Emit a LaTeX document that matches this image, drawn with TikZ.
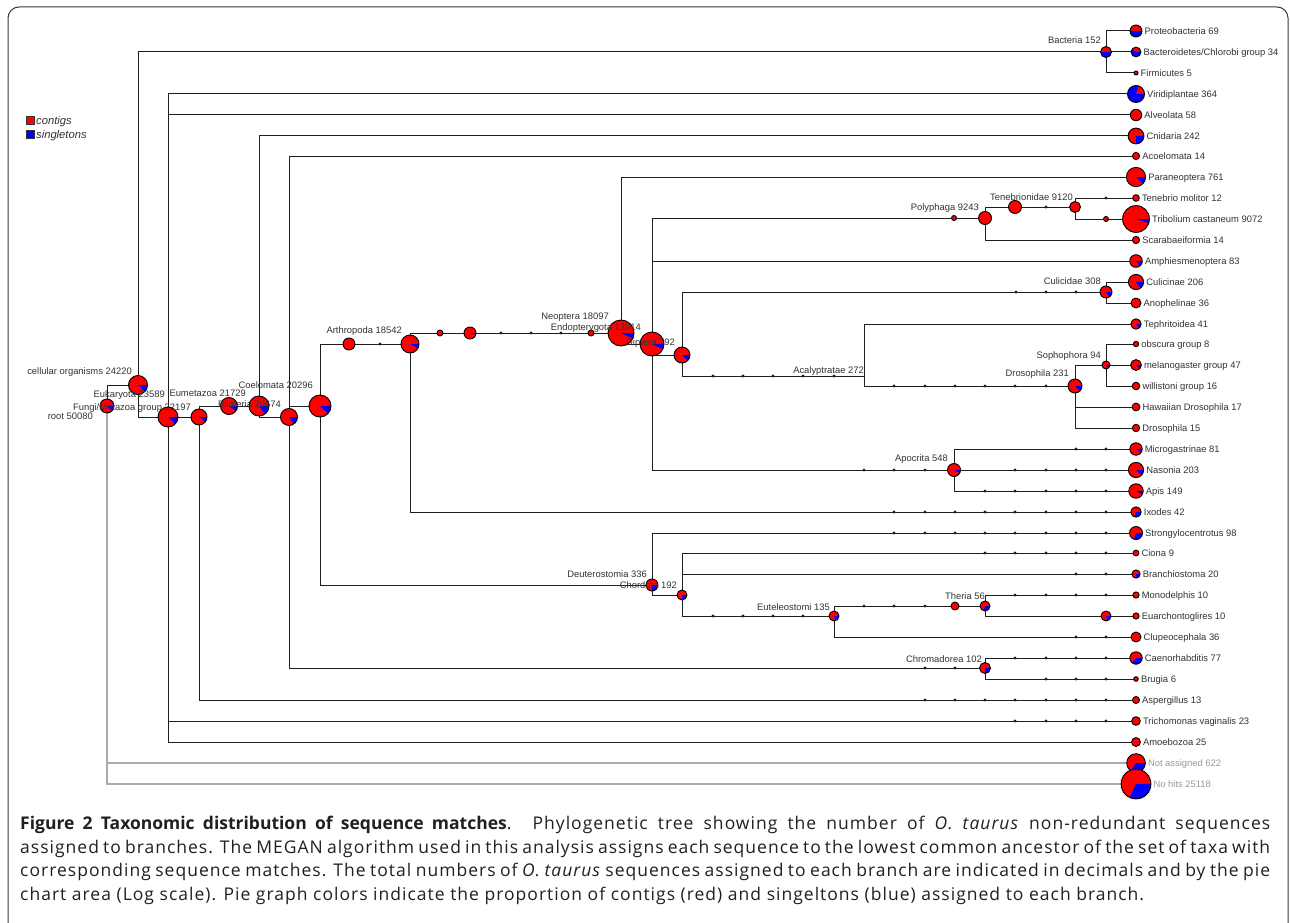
\documentclass[tikz,border=0pt]{standalone}
\usepackage{fontspec}
\setmainfont{Liberation Sans}
\newfontfamily\captionfont[LetterSpace=5.8, BoldFeatures={LetterSpace=0}]{Open Sans}
\usetikzlibrary{backgrounds}
\definecolor{piered}{HTML}{FF0000}
\definecolor{pieblue}{HTML}{0000FF}
\definecolor{treeink}{HTML}{1E1E1E}
\definecolor{treegray}{HTML}{ABABAB}
\definecolor{labelink}{HTML}{333333}
\definecolor{labelgray}{HTML}{9A9A9A}
\definecolor{captionink}{HTML}{231F20}
\definecolor{frameink}{HTML}{3A3A3A}
\tikzset{
  treeline/.style={draw=treeink, line width=1pt},
  grayline/.style={draw=treegray, line width=1.2pt},
  pieedge/.style={draw=black, line width=.9pt},
  taxlabel/.style={font=\fontsize{9.4}{11}\selectfont, text=labelink, inner sep=0pt},
  graylabel/.style={taxlabel, text=labelgray},
  legendkey/.style={draw=labelink, line width=.5pt, minimum size=8pt, inner sep=0pt},
  legendtext/.style={font=\fontsize{11.2}{13}\selectfont\itshape, text=labelink, inner sep=0pt, anchor=base west},
  captionline/.style={font=\captionfont\fontsize{17.5}{23.5}\selectfont, text=captionink, inner sep=0pt, anchor=base west}
}
% pie at a named coordinate: name, radius, share of singletons
\newcommand{\taxpie}[3]{%
  \fill[piered] (#1) circle (#2);
  \ifdim #3pt>0pt
    \fill[pieblue] (#1) -- ++(0:#2) arc[start angle=0, end angle=360*#3, radius=#2] -- cycle;
  \fi
  \draw[pieedge] (#1) circle (#2);
}

\begin{document}
\begin{tikzpicture}[x=1pt,y=-1pt]
  \useasboundingbox (0,0) rectangle (1290,923);

  % inner taxa: name/x/y/radius/singleton share
  \foreach \n/\x/\y/\r/\f in {root/107/406/7/.12, cellorg/138/385/9.5/.12, eukaryota/168/417/10/.12,
      fungimetazoa/199/417/8/.1, metazoa/229/406/8.5/.1, eumetazoa/259/406/10/.15, bilateria/289/417/8.5/.15,
      coelomata/320/406/11/.12, protostomia/349/344/6/0, arthropoda/410/344/9/.08, arthA/440/333/3/0,
      arthB/470/333/6/.05, pterygota/591/333/3/0, neoptera/621/333/13/.07, endopterygota/652/344/12/.07,
      diptera/682/355/8/.12, coleoptera/954/218/2.5/0, polyphaga/985/218/6.5/0, cucujiformia/1015/207/6.5/0,
      tenebrionidae/1075/207/5.5/0, triboliumgen/1106/219/2.5/0, culicidae/1106/292/6/.15,
      drosophila/1075/386/7/.12, sophophora/1106/365/4/.15, apocrita/954/470/6.5/.08,
      deuterostomia/652/585/6/.25, chordata/682/595/5/.25, euteleostomi/834/616/5/.2, mammalia/955/606/4/0,
      theria/985/606/5/.3, eutheria/1106/616/5/.2, chromadorea/985/668/5.5/.25, bacteria/1106/52/5.5/.5} {
    \coordinate (\n) at (\x,\y);
    \taxpie{\n}{\r}{\f}
  }
  \coordinate (acalyptratae) at (864,376);

  % leaves: name/y/radius/singleton share/taxon and count
  \foreach \n/\y/\r/\f/\lab in {proteobacteria/31/6/.5/{Proteobacteria 69}, bacteroidetes/52/4.9/.6/{Bacteroidetes/Chlorobi group 34},
      firmicutes/73/2/0/{Firmicutes 5}, viridiplantae/94/8.5/.8/{Viridiplantae 364}, alveolata/115/5.7/0/{Alveolata 58},
      cnidaria/136/7.9/.25/{Cnidaria 242}, acoelomata/156/3.6/0/{Acoelomata 14}, paraneoptera/177/9.6/.12/{Paraneoptera 761},
      tenebrio/198/3.3/0/{Tenebrio molitor 12}, tribcastaneum/219/13.4/.05/{Tribolium castaneum 9072},
      scarabaeiformia/240/3.6/0/{Scarabaeiformia 14}, amphiesmenoptera/261/6.3/.15/{Amphiesmenoptera 83},
      culicinae/282/7.6/.15/{Culicinae 206}, anophelinae/303/5/0/{Anophelinae 36}, tephritoidea/324/5.2/.15/{Tephritoidea 41},
      obscura/344/2.7/0/{obscura group 8}, melanogaster/365/5.4/.12/{melanogaster group 47}, willistoni/386/3.8/0/{willistoni group 16},
      hawaiian/407/3.9/0/{Hawaiian Drosophila 17}, drosophilaleaf/428/3.7/0/{Drosophila 15}, microgastrinae/449/6.2/.1/{Microgastrinae 81},
      nasonia/470/7.6/.12/{Nasonia 203}, apis/491/7.2/.08/{Apis 149}, ixodes/512/5.2/.3/{Ixodes 42},
      strongylocentrotus/533/6.5/.3/{Strongylocentrotus 98}, ciona/553/2.9/0/{Ciona 9}, branchiostoma/574/4.1/.25/{Branchiostoma 20},
      monodelphis/595/3.1/0/{Monodelphis 10}, euarchontoglires/616/3.1/0/{Euarchontoglires 10}, clupeocephala/637/5/0/{Clupeocephala 36},
      caenorhabditis/658/6.2/.35/{Caenorhabditis 77}, brugia/679/2.3/0/{Brugia 6}, aspergillus/700/3.5/0/{Aspergillus 13},
      trichomonas/721/4.3/0/{Trichomonas vaginalis 23}, amoebozoa/742/4.4/0/{Amoebozoa 25}} {
    \coordinate (\n) at (1136,\y);
    \taxpie{\n}{\r}{\f}
    \node[taxlabel, anchor=base west] (\n-lab) at (1136+\r+2.5,\y+3.4) {\lab};
  }
  \foreach \n/\y/\r/\f/\lab in {notassigned/763/9.3/.35/{Not assigned 622}, nohits/784/14.9/.32/{No hits 25118}} {
    \coordinate (\n) at (1136,\y);
    \taxpie{\n}{\r}{\f}
    \node[graylabel, anchor=base west] (\n-lab) at (1136+\r+2.5,\y+3.4) {\lab};
  }

  % labels of inner taxa
  \foreach \n/\x/\y/\lab in {root/93/419.5/{root 50080}, cellorg/132/374.5/{cellular organisms 24220},
      eukaryota/165/397.5/{Eukaryota 23589}, fungimetazoa/191/410.5/{Fungi/Metazoa group 22197},
      eumetazoa/246/396.5/{Eumetazoa 21729}, bilateria/281/407.5/{Bilateria 20674},
      coelomata/313/388.5/{Coelomata 20296}, arthropoda/402/333.5/{Arthropoda 18542},
      neoptera/609/319.5/{Neoptera 18097}, endopterygota/641/330.5/{Endopterygota 13914},
      diptera/675/345.5/{Diptera 792}, polyphaga/979/210.5/{Polyphaga 9243},
      tenebrionidae/1073/200.5/{Tenebrionidae 9120}, culicidae/1101/284.5/{Culicidae 308},
      acalyptratae/864/373.5/{Acalyptratae 272}, sophophora/1101/358.5/{Sophophora 94},
      drosophila/1069/376.5/{Drosophila 231}, apocrita/948/461.5/{Apocrita 548},
      deuterostomia/647/577.5/{Deuterostomia 336}, chordata/677/588.5/{Chordata 192},
      euteleostomi/830/610.5/{Euteleostomi 135}, theria/985/599.5/{Theria 56},
      chromadorea/982/662.5/{Chromadorea 102}, bacteria/1101/43.5/{Bacteria 152}} {
    \node[taxlabel, anchor=base east] (\n-lab) at (\x,\y) {\lab};
  }

  % legend
  \node[legendkey, fill=piered] (contigs-key) at (30,120.5) {};
  \node[legendkey, fill=pieblue] (singletons-key) at (30,134) {};
  \node[legendtext] (contigs-lab) at (36,124.7) {contigs};
  \node[legendtext] (singletons-lab) at (36,138.2) {singletons};

  % caption
  \node[captionline] (cap1) at (20,829.5) {\makebox[1250pt][s]{\textbf{Figure 2 Taxonomic distribution of sequence matches}. Phylogenetic tree showing the number of \textit{O. taurus} non-redundant sequences}};
  \node[captionline] (cap2) at (20,853) {\makebox[1250pt][s]{assigned to branches. The MEGAN algorithm used in this analysis assigns each sequence to the lowest common ancestor of the set of taxa with}};
  \node[captionline] (cap3) at (20,876.5) {\makebox[1250pt][s]{corresponding sequence matches. The total numbers of \textit{O. taurus} sequences assigned to each branch are indicated in decimals and by the pie}};
  \node[captionline] (cap4) at (20,900) {chart area (Log scale). Pie graph colors indicate the proportion of contigs (red) and singeltons (blue) assigned to each branch.};

  \begin{scope}[on background layer]
    \fill[white] (0,0) rectangle (1290,923);
    \draw[frameink, line width=1pt, rounded corners=11pt] (8,7) rectangle (1288,960);
    \foreach \p/\c in {root/cellorg, cellorg/bacteria, cellorg/eukaryota, bacteria/proteobacteria,
        bacteria/bacteroidetes, bacteria/firmicutes, eukaryota/viridiplantae, eukaryota/alveolata,
        eukaryota/fungimetazoa, eukaryota/trichomonas, eukaryota/amoebozoa, fungimetazoa/metazoa,
        fungimetazoa/aspergillus, metazoa/eumetazoa, eumetazoa/cnidaria, eumetazoa/bilateria,
        bilateria/acoelomata, bilateria/coelomata, bilateria/chromadorea, coelomata/protostomia,
        coelomata/deuterostomia, protostomia/arthropoda, arthropoda/arthA, arthropoda/ixodes, arthA/arthB,
        arthB/pterygota, pterygota/neoptera, neoptera/paraneoptera, neoptera/endopterygota,
        endopterygota/coleoptera, endopterygota/amphiesmenoptera, endopterygota/diptera, endopterygota/apocrita,
        coleoptera/polyphaga, polyphaga/cucujiformia, polyphaga/scarabaeiformia, cucujiformia/tenebrionidae,
        tenebrionidae/tenebrio, tenebrionidae/triboliumgen, triboliumgen/tribcastaneum,
        diptera/culicidae, diptera/acalyptratae, culicidae/culicinae, culicidae/anophelinae,
        acalyptratae/tephritoidea, acalyptratae/drosophila, drosophila/sophophora, drosophila/hawaiian,
        drosophila/drosophilaleaf, sophophora/obscura, sophophora/melanogaster, sophophora/willistoni,
        apocrita/microgastrinae, apocrita/nasonia, apocrita/apis, deuterostomia/strongylocentrotus,
        deuterostomia/chordata, chordata/ciona, chordata/branchiostoma, chordata/euteleostomi,
        euteleostomi/mammalia, euteleostomi/clupeocephala, mammalia/theria, theria/monodelphis,
        theria/eutheria, eutheria/euarchontoglires, chromadorea/caenorhabditis, chromadorea/brugia}
      \draw[treeline] (\p) |- (\c);
    \draw[grayline] (root) |- (notassigned);
    \draw[grayline] (root) |- (nohits);
    % empty ranks on the way
    \foreach \c/\xs in {arthropoda/{380}, pterygota/{501,531,561}, tenebrionidae/{1046}, tenebrio/{1106},
        culicidae/{1016,1046,1076}, acalyptratae/{713,743,773,803,834}, drosophila/{894,925,955,985,1015,1046},
        apocrita/{864,894,925}, microgastrinae/{1076,1106}, nasonia/{1015,1046,1076,1106},
        apis/{985,1015,1046,1076,1106}, ixodes/{894,925,955,985,1015,1046,1076,1106},
        strongylocentrotus/{894,925,955,985,1015,1046,1076,1106}, ciona/{985,1015,1046,1076,1106},
        branchiostoma/{1076,1106}, euteleostomi/{713,743,773,803}, mammalia/{864,894,925},
        monodelphis/{1015,1046,1076,1106}, clupeocephala/{1076,1106}, chromadorea/{925,955},
        caenorhabditis/{1015,1046,1076,1106}, brugia/{1046,1076,1106},
        aspergillus/{925,955,985,1015,1046,1076,1106}, trichomonas/{1015,1046,1076,1106}}
      \foreach \d in \xs
        \fill[treeink] (\d,0 |- \c) circle (1.6);
  \end{scope}
\end{tikzpicture}
\end{document}
